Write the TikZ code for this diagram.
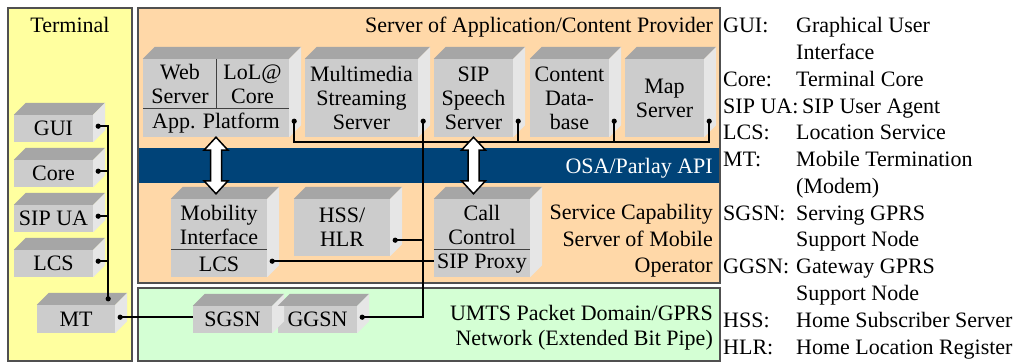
\documentclass[tikz,border=0pt]{standalone}
\usepackage{fontspec}
\setmainfont{Liberation Serif}
\usetikzlibrary{calc}

\definecolor{termbg}{HTML}{FFFF9F}
\definecolor{provbg}{HTML}{FFD8A8}
\definecolor{netbg}{HTML}{D4FFD4}
\definecolor{osablue}{HTML}{004378}
\definecolor{panelline}{HTML}{505050}
\definecolor{frontgray}{HTML}{CCCCCC}
\definecolor{cubetop}{HTML}{A6A6A6}
\definecolor{cubeside}{HTML}{E6E6E6}
\definecolor{dividergray}{HTML}{404040}

\newcommand\boxfont{\fontsize{22}{24}\selectfont}

% top and right faces of a cuboid whose front face is node #1
\newcommand\cubefaces[1]{%
  \fill[cubetop] (#1.north west) -- ++(12pt,12pt) -- ([shift={(12pt,12pt)}]#1.north east) -- (#1.north east) -- cycle;
  \fill[cubeside] (#1.north east) -- ++(12pt,12pt) -- ([shift={(12pt,12pt)}]#1.south east) -- (#1.south east) -- cycle;
}

% hollow double-headed arrow from #1 (top tip) to #2 (bottom tip)
\newcommand\dblarrow[2]{%
  \draw[bigarrow] (#1) -- ++(12pt,-13pt) -- ++(-6.5pt,0pt) -- ([shift={(5.5pt,13pt)}]#2) -- ++(6.5pt,0pt)
    -- (#2) -- ++(-12pt,13pt) -- ++(6.5pt,0pt) -- ([shift={(-5.5pt,-13pt)}]#1) -- ++(-6.5pt,0pt) -- cycle;
}

\tikzset{
  panel/.style={draw=panelline, line width=1.2pt},
  front/.style={fill=frontgray, inner sep=0pt, align=center, font=\boxfont},
  boxtext/.style={inner sep=0pt, align=center, font=\boxfont},
  title/.style={inner sep=0pt, font=\boxfont},
  legend/.style={inner sep=0pt, anchor=base west, font=\boxfont},
  wire/.style={line width=1.7pt, black},
  divider/.style={draw=dividergray, line width=1pt},
  bigarrow/.style={draw=black, fill=white, line width=1.5pt, line join=miter},
}

\begin{document}
\begin{tikzpicture}[x=1pt,y=-1pt]
\useasboundingbox (0,0) rectangle (1016,363);

% ---- panels ----
\path[panel, fill=termbg] (8,8) rectangle (132,361);
\fill[provbg] (138,8) rectangle (720,283);
\fill[osablue] (138,148) rectangle (720,183);
\draw[panel] (138,8) rectangle (720,283);
\path[panel, fill=netbg] (138,288) rectangle (720,361);

% ---- panel titles ----
\node[title, anchor=base] (termtitle) at (70,33) {Terminal};
\node[title, anchor=base east] (provtitle) at (713,33) {Server of Application/Content Provider};
\node[title, anchor=base east, text=white] (osa) at (713,173.5) {OSA/Parlay API};
\node[title, anchor=base east] (scs1) at (713,220) {Service Capability};
\node[title, anchor=base east] (scs2) at (713,246) {Server of Mobile};
\node[title, anchor=base east] (scs3) at (713,272) {Operator};
\node[title, anchor=base east] (umts1) at (713,320) {UMTS Packet Domain/GPRS};
\node[title, anchor=base east] (umts2) at (713,345) {Network (Extended Bit Pipe)};

% ---- terminal components ----
\node[front, minimum width=79pt, minimum height=27pt] (gui)   at (53.5,128.5) {GUI};
\node[front, minimum width=79pt, minimum height=27pt] (core)  at (53.5,173.5) {Core};
\node[front, minimum width=79pt, minimum height=27pt] (sipua) at (53.5,218.5) {SIP UA};
\node[front, minimum width=79pt, minimum height=27pt] (lcst)  at (53.5,263.5) {LCS};
\node[front, minimum width=78pt, minimum height=28pt] (mt)    at (76,319) {MT};

% ---- application / content servers ----
\node[front, minimum width=146pt, minimum height=78pt] (app) at (216,98) {};
\node[front, minimum width=113pt, minimum height=78pt] (mm)  at (361.5,98) {Multimedia\\Streaming\\Server};
\node[front, minimum width=79pt, minimum height=78pt]  (sip) at (473.5,98) {SIP\\Speech\\Server};
\node[front, minimum width=79pt, minimum height=78pt]  (cdb) at (569.5,98) {Content\\Data-\\base};
\node[front, minimum width=79pt, minimum height=78pt]  (map) at (664.5,98) {Map\\Server};

% ---- operator servers ----
\node[front, minimum width=96pt, minimum height=78pt] (mob) at (219,238) {};
\node[front, minimum width=96pt, minimum height=57pt] (hss) at (342,227.5) {HSS/\\HLR};
\node[front, minimum width=96pt, minimum height=78pt] (cc)  at (482,238) {};

% ---- network nodes ----
\node[front, minimum width=79pt, minimum height=27pt] (sgsn) at (232.5,319.5) {SGSN};
\node[front, minimum width=79pt, minimum height=27pt] (ggsn) at (317.5,319.5) {GGSN};

% ---- cuboid faces ----
\foreach \n in {gui,core,sipua,lcst,mt,app,mm,sip,cdb,map,mob,hss,cc,sgsn,ggsn}{\cubefaces{\n}}

% ---- subdivided boxes ----
\node[boxtext] (web) at (180,84) {Web\\Server};
\node[boxtext] (lol) at (252.5,84) {LoL@\\Core};
\node[boxtext] (plat) at (216,123) {App. Platform};
\draw[divider] (app.north) -- (app.north |- 0,109);
\draw[divider] (app.west |- 0,109) -- (app.east |- 0,109);

\node[boxtext] (mobif) at (219,224.5) {Mobility\\Interface};
\node[boxtext] (moblcs) at (219,264) {LCS};
\draw[divider] (mob.west |- 0,249) -- (mob.east |- 0,249);

\node[boxtext] (call) at (482,224.5) {Call\\Control};
\node[boxtext] (proxy) at (482,264) {SIP Proxy};
\draw[divider] (cc.west |- 0,249) -- (cc.east |- 0,249);

% ---- connection points ----
\foreach \n in {gui,core,sipua,lcst,mt,app,mm,sip,cdb,map,mob,hss,ggsn}{
  \coordinate (\n dot) at ([shift={(5pt,16pt)}]\n.south east);
}
\coordinate (mttop) at ([shift={(-7pt,6pt)}]mt.north east);
\coordinate (bus) at (300,142);

% ---- wiring ----
\draw[wire] (guidot) -- (guidot -| mttop) -- (mttop);
\foreach \n in {core,sipua,lcst}{\draw[wire] (\n dot) -- (\n dot -| mttop);}
\draw[wire] (mtdot) -- (mtdot -| sgsn.west);
\draw[wire] (appdot) -- (appdot |- bus) -- (mapdot |- bus) -- (mapdot);
\draw[wire] (sipdot) -- (sipdot |- bus);
\draw[wire] (cdbdot) -- (cdbdot |- bus);
\draw[wire] (mmdot) -- (mmdot |- ggsndot) -- (ggsndot);
\draw[wire] (hssdot) -- (hssdot -| mmdot);
\draw[wire] (mobdot) -- (mobdot -| cc.west);

\foreach \n in {gui,core,sipua,lcst,mt,app,mm,sip,cdb,map,mob,hss,ggsn}{
  \fill (\n dot) circle (2.6pt);
}
\fill (mttop) circle (2.6pt);

% ---- OSA/Parlay access ----
\coordinate (a1t) at (app.south);
\coordinate (a1b) at ([yshift=5pt]app.south |- mob.north);
\coordinate (a2t) at (sip.south);
\coordinate (a2b) at ([yshift=5pt]sip.south |- cc.north);
\dblarrow{a1t}{a1b}
\dblarrow{a2t}{a2b}

% ---- abbreviations ----
\node[legend] (k1)  at (723,33)     {GUI:};
\node[legend] (d1)  at (796,33)     {Graphical User};
\node[legend] (d2)  at (796,59.75)  {Interface};
\node[legend] (k3)  at (723,86.5)   {Core:};
\node[legend] (d3)  at (796,86.5)   {Terminal Core};
\node[legend] (k4)  at (723,113.25) {SIP UA:};
\node[legend] (d4)  at (802,113.25) {SIP User Agent};
\node[legend] (k5)  at (723,140)    {LCS:};
\node[legend] (d5)  at (796,140)    {Location Service};
\node[legend] (k6)  at (723,166.75) {MT:};
\node[legend] (d6)  at (796,166.75) {Mobile Termination};
\node[legend] (d7)  at (796,193.5)  {(Modem)};
\node[legend] (k8)  at (723,220.25) {SGSN:};
\node[legend] (d8)  at (796,220.25) {Serving GPRS};
\node[legend] (d9)  at (796,247)    {Support Node};
\node[legend] (k10) at (723,273.75) {GGSN:};
\node[legend] (d10) at (796,273.75) {Gateway GPRS};
\node[legend] (d11) at (796,300.5)  {Support Node};
\node[legend] (k12) at (723,327.25) {HSS:};
\node[legend] (d12) at (796,327.25) {Home Subscriber Server};
\node[legend] (k13) at (723,354)    {HLR:};
\node[legend] (d13) at (796,354)    {Home Location Register};
\end{tikzpicture}
\end{document}
